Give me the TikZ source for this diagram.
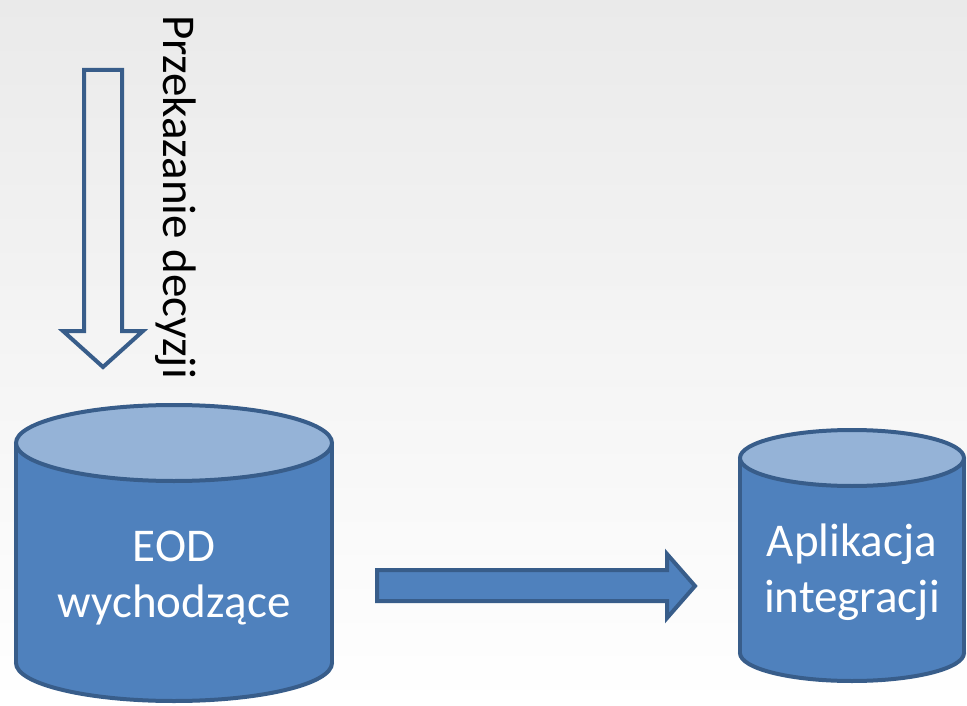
\documentclass[tikz,border=0pt]{standalone}
\usepackage{fontspec}
\setmainfont{Carlito}
\definecolor{bodyblue}{HTML}{4F81BD}
\definecolor{topblue}{HTML}{95B3D7}
\definecolor{edgeblue}{HTML}{385D8A}
\definecolor{bgtop}{HTML}{EAEAEA}
\newcommand\mycyl[5]{% cx, top cy, bottom cy, rx, ry
  \filldraw[fill=bodyblue,draw=edgeblue] (#1,#3) ellipse [x radius=#4, y radius=#5];
  \fill[bodyblue] (#1-#4,#2) rectangle (#1+#4,#3);
  \draw[edgeblue] (#1-#4,#2) -- (#1-#4,#3) (#1+#4,#2) -- (#1+#4,#3);
  \filldraw[fill=topblue,draw=edgeblue] (#1,#2) ellipse [x radius=#4, y radius=#5];
}
\begin{document}
\begin{tikzpicture}[x=1pt,y=-1pt,line width=4pt,
  celltext/.style={text=white,align=center,font=\fontsize{47}{56}\selectfont},
  blockarrow/.style={draw=edgeblue,line join=miter}]
\useasboundingbox (0,0) rectangle (967,706);
\shade[top color=bgtop,bottom color=white] (0,0) rectangle (967,706);
% hollow down arrow
\draw[blockarrow,fill=none] (84,70) -- (122,70) -- (122,331) -- (143,331) -- (103,367) -- (63,331) -- (84,331) -- cycle;
\node[rotate=-90,anchor=center,font=\fontsize{47}{56}\selectfont] (label) at (176,197) {Przekazanie decyzji};
% cylinders
\mycyl{174}{443}{663}{158}{38}
\node[celltext] (eod) at (174,578) {EOD\\wychodzące};
\mycyl{852}{458}{653}{112}{28}
\node[celltext] (app) at (852,572) {Aplikacja\\integracji};
% right arrow
\draw[blockarrow,fill=bodyblue] (377,570) -- (667,570) -- (667,554) -- (695,586) -- (667,618) -- (667,601) -- (377,601) -- cycle;
\end{tikzpicture}
\end{document}
